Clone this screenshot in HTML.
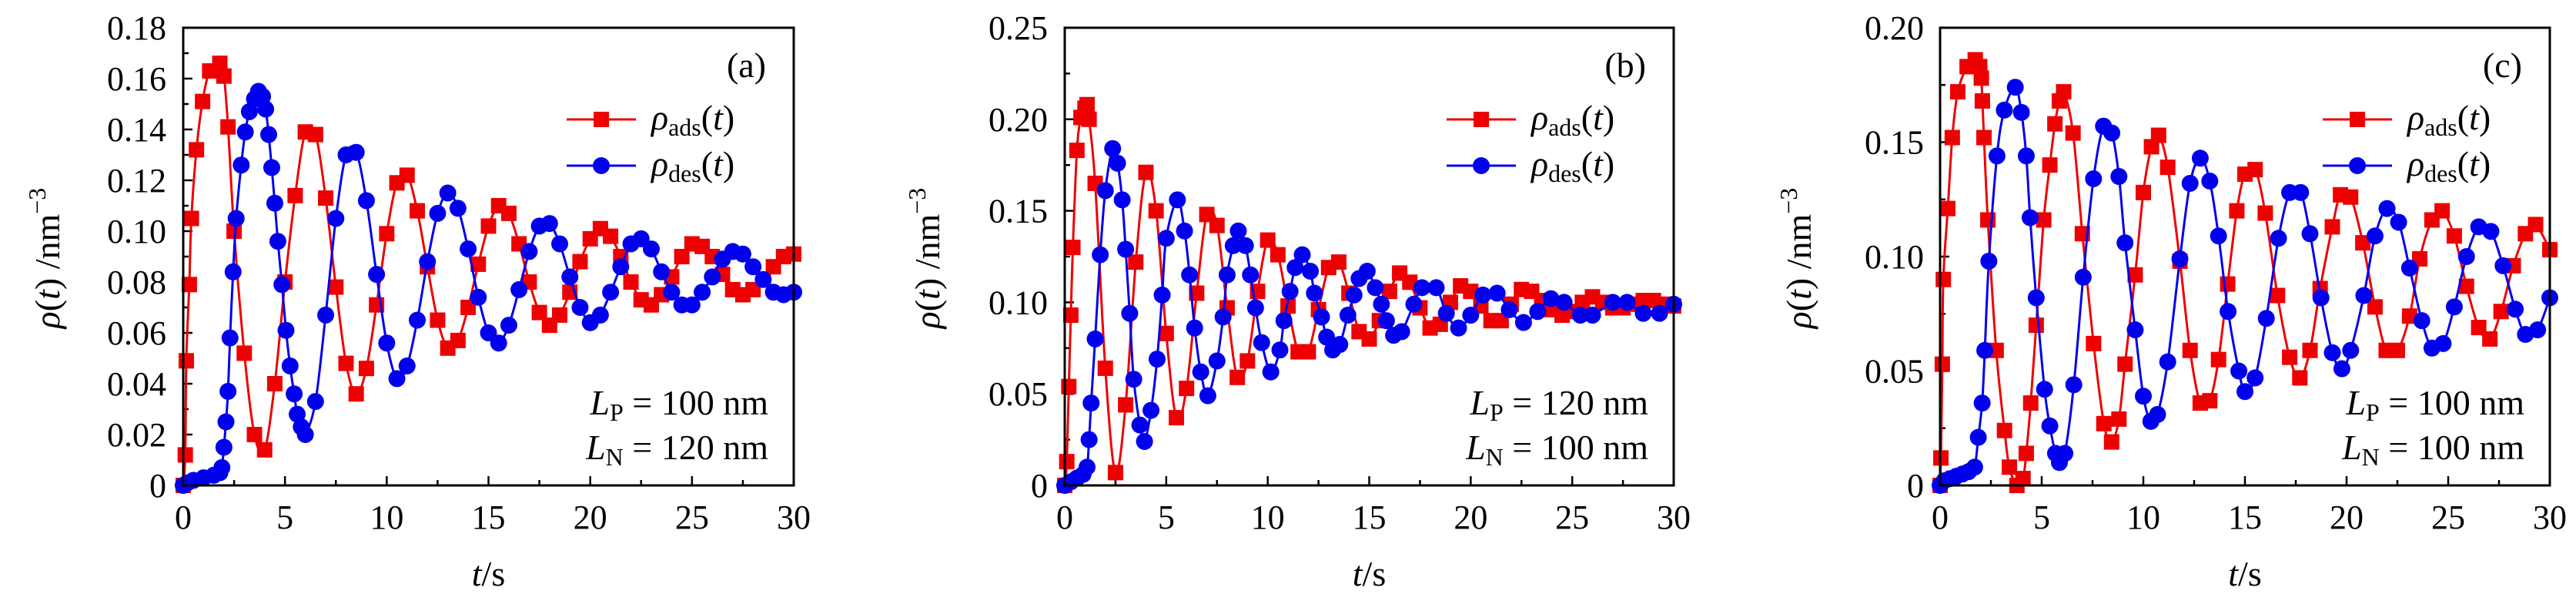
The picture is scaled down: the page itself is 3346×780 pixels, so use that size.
<!DOCTYPE html>
<html><head><meta charset="utf-8">
<style>
html,body{margin:0;padding:0;background:#fff;}
svg{display:block;font-family:"Liberation Serif","DejaVu Serif",serif;}
</style></head>
<body>
<svg id="fig" width="3346" height="780" viewBox="0 0 3346 780" xmlns="http://www.w3.org/2000/svg"></svg>
<script>
// ---------- Panel (a) data ----------
const aRedT = [0,0.1,0.15,0.3,0.4,0.65,0.95,1.3,1.8,2.0,2.2,2.5,3.0,3.5,4.0,4.5,5.0,5.5,6.0,6.5,7,7.5,8,8.5,9,9.5,10,10.5,11,11.5,12,12.5,13,13.5,14,14.5,15,15.5,16,16.5,17,17.5,18,18.5,19,19.5,20,20.5,21,21.5,22,22.5,23,23.5,24,24.5,25,25.5,26,26.5,27,27.5,28,28.5,29,29.5,30];
const aRedV = [0,.012,.049,.079,.105,.132,.151,.163,.166,.161,.141,.100,.052,.020,.014,.040,.080,.114,.139,.138,.113,.078,.048,.036,.046,.071,.099,.119,.122,.108,.086,.065,.054,.057,.070,.087,.102,.110,.107,.095,.080,.068,.063,.067,.076,.088,.097,.101,.098,.090,.080,.073,.071,.075,.082,.090,.095,.094,.090,.083,.077,.075,.077,.081,.086,.090,.091];
const aBlueT = [0,0.2,0.5,1.0,1.5,1.8,1.9,2.0,2.1,2.2,2.3,2.45,2.6,2.85,3.05,3.25,3.5,3.7,3.9,4.05,4.2,4.35,4.5,4.65,4.85,5.05,5.25,5.45,5.6,5.8,6.0,6.5,7,7.5,8,8.5,9,9.5,10,10.5,11,11.5,12,12.5,13,13.5,14,14.5,15,15.5,16,16.5,17,17.5,18,18.5,19,19.5,20,20.5,21,21.5,22,22.5,23,23.5,24,24.5,25,25.5,26,26.5,27,27.5,28,28.5,29,29.5,30];
const aBlueV = [0,.001,.002,.003,.004,.005,.007,.015,.025,.037,.058,.084,.105,.126,.139,.147,.152,.155,.153,.148,.138,.125,.111,.096,.079,.061,.047,.036,.028,.023,.020,.033,.067,.105,.130,.131,.112,.083,.056,.042,.047,.065,.088,.107,.115,.109,.093,.074,.060,.056,.063,.077,.092,.102,.103,.095,.082,.070,.064,.067,.076,.086,.095,.097,.093,.084,.076,.071,.071,.076,.082,.089,.092,.091,.086,.081,.076,.075,.076];
const aYTicks = ["0","0.02","0.04","0.06","0.08","0.10","0.12","0.14","0.16","0.18"];
// ---------- Panel (b) data ----------
const bRedT = [0,0.1,0.2,0.3,0.4,0.6,0.8,1.0,1.1,1.2,1.5,2.0,2.5,3,3.5,4,4.5,5,5.5,6,6.5,7,7.5,8,8.5,9,9.5,10,10.5,11,11.5,12,12.5,13,13.5,14,14.5,15,15.5,16,16.5,17,17.5,18,18.5,19,19.5,20,20.5,21,21.5,22,22.5,23,23.5,24,24.5,25,25.5,26,26.5,27,27.5,28,28.5,29,29.5,30];
const bRedV = [0,.013,.054,.093,.130,.183,.201,.206,.208,.200,.165,.064,.007,.044,.122,.171,.150,.083,.037,.053,.105,.148,.142,.097,.059,.068,.106,.134,.126,.098,.073,.073,.096,.119,.122,.105,.084,.080,.090,.106,.116,.111,.097,.086,.088,.100,.109,.106,.098,.090,.090,.099,.107,.106,.101,.096,.093,.095,.100,.103,.100,.097,.097,.099,.101,.101,.099,.098];
const bBlueT = [0,0.3,0.6,0.9,1.1,1.2,1.3,1.5,1.75,2.0,2.36,2.6,2.83,3.0,3.2,3.4,3.7,3.93,4.25,4.55,4.8,5.0,5.55,5.9,6.15,6.4,6.7,7.05,7.5,7.8,8.0,8.3,8.55,8.9,9.15,9.4,9.7,10.15,10.6,10.8,11.1,11.35,11.7,12.1,12.3,12.65,12.9,13.2,13.55,13.95,14.25,14.5,14.9,15.3,15.6,15.85,16.2,16.6,17.2,17.6,18.3,18.8,19.4,20.0,20.6,21.3,21.9,22.6,23.3,23.95,24.6,25.4,26.0,27.0,27.7,28.5,29.3,30.0];
const bBlueV = [0,.002,.004,.006,.010,.025,.045,.080,.126,.161,.184,.176,.156,.129,.094,.058,.033,.024,.041,.069,.104,.135,.156,.139,.115,.086,.062,.049,.068,.092,.115,.131,.139,.131,.115,.097,.078,.062,.074,.090,.106,.119,.126,.117,.105,.092,.081,.074,.077,.093,.104,.113,.117,.108,.099,.090,.082,.084,.099,.108,.108,.094,.086,.093,.104,.105,.096,.089,.095,.102,.100,.093,.093,.100,.100,.094,.094,.099];
const bYTicks = ["0","0.05","0.10","0.15","0.20","0.25"];
// ---------- Panel (c) data ----------
const cRedT = [0,0.04,0.11,0.16,0.38,0.6,0.87,1.33,1.73,1.95,2.03,2.08,2.16,2.35,2.76,3.17,3.41,3.78,4.08,4.24,4.46,4.73,5.1,5.4,5.65,5.87,6.08,6.54,7.0,7.55,8.06,8.44,8.8,9.1,9.6,10.0,10.4,10.75,11.2,11.8,12.3,12.8,13.27,13.7,14.15,14.6,15.0,15.5,16.0,16.6,17.2,17.7,18.2,18.7,19.3,19.7,20.2,20.8,21.4,21.95,22.5,23.1,23.6,24.2,24.7,25.3,25.9,26.5,27.05,27.6,28.2,28.8,29.3,30];
const cRedV = [0,.012,.053,.090,.121,.152,.172,.183,.186,.183,.178,.168,.152,.116,.059,.024,.008,0,.003,.014,.036,.070,.116,.140,.158,.168,.172,.154,.110,.062,.027,.019,.029,.053,.092,.128,.148,.153,.139,.098,.059,.036,.037,.055,.088,.120,.136,.138,.119,.083,.056,.047,.059,.086,.113,.127,.126,.106,.078,.059,.059,.074,.099,.116,.120,.109,.087,.069,.064,.076,.096,.110,.114,.103];
const cBlueT = [0,0.2,0.5,0.8,1.1,1.4,1.7,1.88,2.07,2.2,2.4,2.8,3.16,3.7,4.0,4.24,4.43,4.73,5.14,5.4,5.68,5.87,6.14,6.58,7.04,7.55,8.04,8.45,8.8,9.1,9.6,10.0,10.37,10.7,11.2,11.8,12.3,12.8,13.27,13.7,14.17,14.7,15.0,15.5,16.05,16.65,17.2,17.74,18.2,18.74,19.3,19.77,20.2,20.85,21.4,21.99,22.56,23.1,23.7,24.2,24.75,25.3,25.9,26.5,27.1,27.7,28.3,28.8,29.4,30];
const cBlueV = [0,.002,.003,.004,.005,.006,.008,.021,.036,.059,.098,.144,.164,.174,.163,.144,.117,.082,.042,.026,.014,.010,.014,.044,.091,.134,.157,.154,.135,.106,.068,.039,.028,.031,.054,.099,.132,.143,.133,.109,.076,.050,.041,.047,.073,.108,.128,.128,.110,.082,.058,.051,.059,.083,.109,.121,.115,.095,.072,.060,.062,.078,.100,.113,.111,.096,.077,.066,.068,.082];
const cYTicks = ["0","0.05","0.10","0.15","0.20"];
const xTicks = ["0","5","10","15","20","25","30"];

const NS = "http://www.w3.org/2000/svg";
const svg = document.getElementById('fig');
function mk(tag, attrs, parent){
  const e = document.createElementNS(NS, tag);
  for (const k in attrs) e.setAttribute(k, attrs[k]);
  (parent||svg).appendChild(e);
  return e;
}
function smoothPath(pts){
  let d = "M" + pts[0][0].toFixed(1) + "," + pts[0][1].toFixed(1);
  for (let i=0;i<pts.length-1;i++){
    const p0 = pts[Math.max(0,i-1)], p1 = pts[i], p2 = pts[i+1], p3 = pts[Math.min(pts.length-1,i+2)];
    const t = 1/6;
    const c1x = p1[0] + (p2[0]-p0[0])*t, c1y = p1[1] + (p2[1]-p0[1])*t;
    const c2x = p2[0] - (p3[0]-p1[0])*t, c2y = p2[1] - (p3[1]-p1[1])*t;
    d += " C" + c1x.toFixed(1)+","+c1y.toFixed(1)+" "+c2x.toFixed(1)+","+c2y.toFixed(1)+" "+p2[0].toFixed(1)+","+p2[1].toFixed(1);
  }
  return d;
}

const panels = [
  {id:"a", L:238, R:1031, ymax:0.18, yTicks:aYTicks, yMinorStep:0.01, yLabelX:216, yTitleX:62,
   redT:aRedT, redV:aRedV, blueT:aBlueT, blueV:aBlueV, lp:"100", ln:"120"},
  {id:"b", L:1383, R:2174, ymax:0.25, yTicks:bYTicks, yMinorStep:0.025, yLabelX:1361, yTitleX:1205,
   redT:bRedT, redV:bRedV, blueT:bBlueT, blueV:bBlueV, lp:"120", ln:"100"},
  {id:"c", L:2520, R:3312, ymax:0.20, yTicks:cYTicks, yMinorStep:0.025, yLabelX:2499, yTitleX:2337,
   redT:cRedT, redV:cRedV, blueT:cBlueT, blueV:cBlueV, lp:"100", ln:"100"}
];
const TOP = 36, BOT = 630;
const RED = "#ee0000", BLUE = "#0000ee";

panels.forEach(p => {
  const g = mk('g', {});
  
  
  const xs = t => p.L + (t/30)*(p.R - p.L);
  const ys = v => BOT - (v/p.ymax)*(BOT - TOP);

  // clip
  const cp = mk('clipPath', {id:'clip-'+p.id}, g);
  mk('rect', {x:p.L-12, y:TOP-12, width:p.R-p.L+24, height:BOT-TOP+24}, cp);

  // ticks
  const tg = mk('g', {stroke:'#000','stroke-width':2.5}, g);
  
  
  for (let i=0;i<=12;i++){
    const x = xs(i*2.5);
    const len = i%2===0 ? 12 : 7;
    mk('line', {x1:x, y1:BOT, x2:x, y2:BOT-len}, tg);
  }
  const nMinor = Math.round(p.ymax/p.yMinorStep);
  for (let i=0;i<=nMinor;i++){
    const y = ys(i*p.yMinorStep);
    const len = i%2===0 ? 12 : 7;
    mk('line', {x1:p.L, y1:y, x2:p.L+len, y2:y}, tg);
  }
  // x tick labels
  xTicks.forEach((lab, i) => {
    const tx = mk('text', {x:xs(i*5), y:686, 'text-anchor':'middle', 'font-size':44}, g);
    tx.textContent = lab;
    
    
  });
  // y tick labels
  const yStep = p.ymax/(p.yTicks.length-1);
  p.yTicks.forEach((lab, i) => {
    const ty = mk('text', {x:p.yLabelX, y:ys(i*yStep)+15, 'text-anchor':'end', 'font-size':44}, g);
    ty.textContent = lab;
    
    
  });
  // axis titles
  const xt = mk('text', {x:(p.L+p.R)/2, y:760, 'text-anchor':'middle', 'font-size':46}, g);
  xt.innerHTML = '<tspan font-style="italic">t</tspan>/s';
  
  
  const yt = mk('text', {x:0, y:0, 'text-anchor':'middle', 'font-size':46, transform:'translate('+(p.yTitleX+15)+',335) rotate(-90)'}, g);
  yt.innerHTML = '<tspan font-style="italic">ρ</tspan>(<tspan font-style="italic">t</tspan>) /nm<tspan font-size="32" dy="-18">−3</tspan>';
  
  

  // series
  const drawSeries = (T, V, color, shape, name) => {
    const sg = mk('g', {'clip-path':'url(#clip-'+p.id+')'}, g);
    
    
    const pts = T.map((t,i) => [xs(t), ys(V[i])]);
    mk('path', {d:smoothPath(pts), fill:'none', stroke:color, 'stroke-width':3}, sg);
    pts.forEach(pt => {
      let m;
      if (shape==='square') m = mk('rect', {x:pt[0]-10, y:pt[1]-10, width:20, height:20, fill:color}, sg);
      else m = mk('circle', {cx:pt[0], cy:pt[1], r:11, fill:color}, sg);
      
      
    });
  };
  drawSeries(p.redT, p.redV, RED, 'square', 'series-rho-ads-' + p.id);
  drawSeries(p.blueT, p.blueV, BLUE, 'circle', 'series-rho-des-' + p.id);

  // frame
  const fr = mk('rect', {x:p.L, y:TOP, width:p.R-p.L, height:BOT-TOP, fill:'none', stroke:'#000', 'stroke-width':3}, g);
  
  

  // panel label
  const pl = mk('text', {x:p.R-36, y:100, 'text-anchor':'end', 'font-size':46}, g);
  pl.textContent = '(' + p.id + ')';
  
  

  // legend
  const lg = mk('g', {}, g);
  
  
  const e1 = mk('g', {}, lg);
  
  
  mk('line', {x1:p.R-295, y1:155, x2:p.R-205, y2:155, stroke:RED, 'stroke-width':3}, e1);
  mk('rect', {x:p.R-260, y:145, width:20, height:20, fill:RED}, e1);
  const t1 = mk('text', {x:p.R-185, y:168, 'font-size':46}, e1);
  t1.innerHTML = '<tspan font-style="italic">ρ</tspan><tspan font-size="32" dy="8">ads</tspan><tspan dy="-8">(</tspan><tspan font-style="italic">t</tspan>)';
  const e2 = mk('g', {}, lg);
  
  
  mk('line', {x1:p.R-295, y1:215, x2:p.R-205, y2:215, stroke:BLUE, 'stroke-width':3}, e2);
  mk('circle', {cx:p.R-250, cy:215, r:11, fill:BLUE}, e2);
  const t2 = mk('text', {x:p.R-185, y:228, 'font-size':46}, e2);
  t2.innerHTML = '<tspan font-style="italic">ρ</tspan><tspan font-size="32" dy="8">des</tspan><tspan dy="-8">(</tspan><tspan font-style="italic">t</tspan>)';

  // annotations
  const a1 = mk('text', {x:p.R-33, y:538, 'text-anchor':'end', 'font-size':46}, g);
  a1.innerHTML = '<tspan font-style="italic">L</tspan><tspan font-size="32" dy="8">P</tspan><tspan dy="-8"> = ' + p.lp + ' nm</tspan>';
  
  
  const a2 = mk('text', {x:p.R-33, y:596, 'text-anchor':'end', 'font-size':46}, g);
  a2.innerHTML = '<tspan font-style="italic">L</tspan><tspan font-size="32" dy="8">N</tspan><tspan dy="-8"> = ' + p.ln + ' nm</tspan>';
  
  
});
</script>
</body></html>
